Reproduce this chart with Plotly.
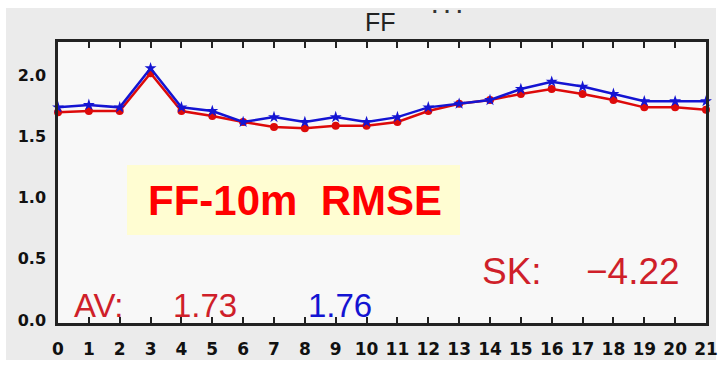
import plotly.graph_objects as go

# Forecast lead (hours) and FF-10m RMSE for the two runs
lead = list(range(22))
rmse_red = [1.70, 1.71, 1.71, 2.02, 1.71, 1.67, 1.62, 1.58, 1.57, 1.59, 1.59,
            1.62, 1.71, 1.77, 1.80, 1.85, 1.89, 1.85, 1.80, 1.74, 1.74, 1.72]
rmse_blue = [1.74, 1.76, 1.74, 2.06, 1.74, 1.71, 1.62, 1.66, 1.62, 1.66, 1.62,
             1.66, 1.74, 1.77, 1.80, 1.89, 1.95, 1.91, 1.85, 1.79, 1.79, 1.79]
y_ticks = [0.0, 0.5, 1.0, 1.5, 2.0]
y_tick_text = ["0.0", "0.5", "1.0", "1.5", "2.0"]
av_red, av_blue, skill = "1.73", "1.76", "\u22124.22"

RED = "#dd0a0a"
BLUE = "#1414d2"
TXT_RED = "#cf1f2a"

fig = go.Figure()
fig.add_trace(go.Scatter(
    x=lead, y=rmse_red, mode="lines+markers",
    line=dict(color=RED, width=2.5),
    marker=dict(symbol="circle", size=8, color=RED),
    showlegend=False, cliponaxis=False))
fig.add_trace(go.Scatter(
    x=lead, y=rmse_blue, mode="lines+markers",
    line=dict(color=BLUE, width=2.5),
    marker=dict(symbol="star", size=9, color=BLUE),
    showlegend=False, cliponaxis=False))

shapes = [
    # grey panel behind the whole plot
    dict(type="rect", xref="paper", yref="paper", layer="below",
         x0=-52 / 648, x1=1 + 10 / 648, y0=-37 / 281, y1=1 + 34 / 281,
         fillcolor="#ebebeb", line=dict(width=0)),
    # light plotting area on top of the panel
    dict(type="rect", xref="paper", yref="paper", layer="below",
         x0=0, x1=1, y0=0, y1=1,
         fillcolor="#f8f8f8", line=dict(width=0)),
    # highlighted caption box
    dict(type="rect", xref="paper", yref="paper", layer="above",
         x0=(127 - 58) / 648, x1=(460 - 58) / 648,
         y0=(323 - 235) / 281, y1=(323 - 165) / 281,
         fillcolor="#fffdd2", line=dict(width=0)),
]

def px_ann(text, x, y, size, color, family="Liberation Sans", bold=False):
    return dict(text=f"<b>{text}</b>" if bold else text,
                xref="paper", yref="paper",
                x=(x - 58) / 648, y=(323 - y) / 281,
                xanchor="center", yanchor="middle", showarrow=False,
                font=dict(family=family, size=size, color=color))

annotations = [
    px_ann("FF-10m  RMSE", 295, 200, 42, "#ff0000", family="Arial, Liberation Sans", bold=True),
    px_ann("SK:", 512, 271, 37, TXT_RED),
    px_ann(skill, 633, 271, 37, TXT_RED),
    px_ann("AV:", 99, 305, 33, TXT_RED),
    px_ann(av_red, 205, 305, 33, TXT_RED),
    px_ann(av_blue, 340, 305, 33, BLUE),
    px_ann("FF", 380, 22, 25, "#222222"),
    px_ann("\u00b7 \u00b7 \u00b7", 447, 11, 20, "#333333", bold=True),
]

fig.update_layout(
    width=720, height=366,
    margin=dict(l=58, r=14, t=42, b=43, autoexpand=False),
    paper_bgcolor="white", plot_bgcolor="#f8f8f8",
    shapes=shapes, annotations=annotations,
    xaxis=dict(range=[0, 21], tickmode="array", tickvals=lead,
               ticktext=[str(v) for v in lead], automargin=False,
               showgrid=False, zeroline=False,
               showline=True, linewidth=2.5, linecolor="#222222", mirror="ticks",
               ticks="inside", ticklen=6, tickwidth=2, tickcolor="#222222",
               ticklabelstandoff=9,
               tickfont=dict(family="DejaVu Sans", size=17, color="#111111", weight="bold")),
    yaxis=dict(range=[-0.025, 2.275], tickmode="array", tickvals=y_ticks,
               ticktext=y_tick_text, automargin=False,
               showgrid=False, zeroline=False,
               showline=True, linewidth=2.5, linecolor="#222222", mirror=True,
               ticks="",
               ticklabelstandoff=6,
               tickfont=dict(family="DejaVu Sans", size=16, color="#111111", weight="bold")),
)

fig.write_html("out.html")
